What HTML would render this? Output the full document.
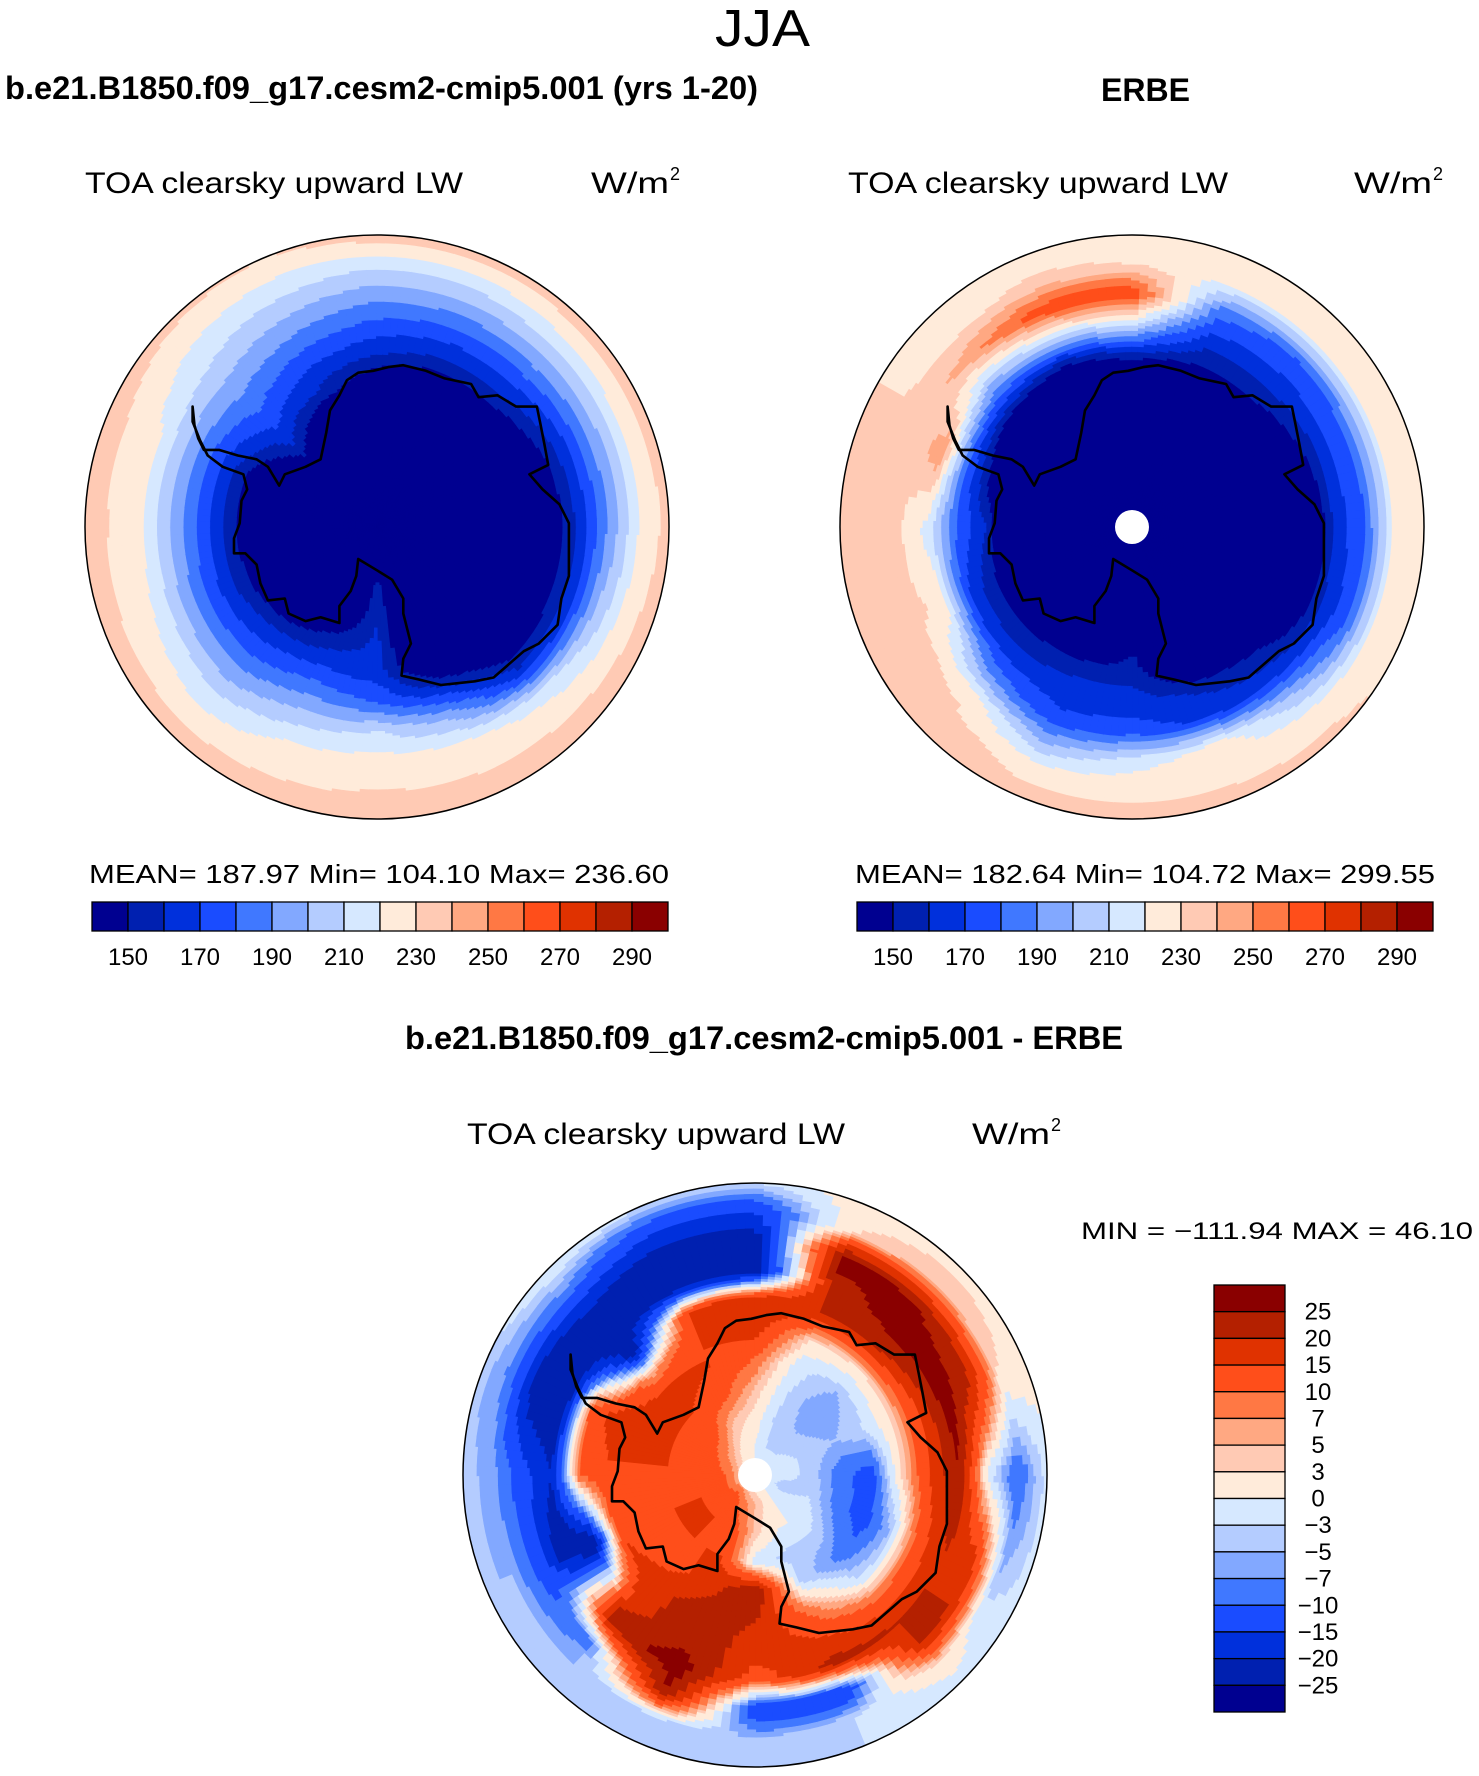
<!DOCTYPE html>
<html><head><meta charset="utf-8">
<style>
html,body{margin:0;padding:0;background:#fff;}
svg{display:block;}
text{font-family:"Liberation Sans",sans-serif;fill:#000;}
</style></head>
<body>
<svg id="fig" width="1479" height="1776" viewBox="0 0 1479 1776" xmlns="http://www.w3.org/2000/svg">
  <text x="715" y="46" font-size="52" textLength="95" lengthAdjust="spacingAndGlyphs">JJA</text>
  <text x="5" y="99" font-size="32" font-weight="bold" textLength="753" lengthAdjust="spacingAndGlyphs">b.e21.B1850.f09_g17.cesm2-cmip5.001 (yrs 1-20)</text>
  <text x="1101" y="101" font-size="32" font-weight="bold" textLength="89" lengthAdjust="spacingAndGlyphs">ERBE</text>

  <text x="85" y="193" font-size="30" textLength="378" lengthAdjust="spacingAndGlyphs">TOA clearsky upward LW</text>
  <text x="591" y="193" font-size="30" textLength="78" lengthAdjust="spacingAndGlyphs">W/m</text>
  <text x="670" y="180" font-size="18">2</text>
  <text x="848" y="193" font-size="30" textLength="380" lengthAdjust="spacingAndGlyphs">TOA clearsky upward LW</text>
  <text x="1354" y="193" font-size="30" textLength="78" lengthAdjust="spacingAndGlyphs">W/m</text>
  <text x="1433" y="180" font-size="18">2</text>

  <g id="mapL"></g>
  <g id="mapR"></g>

  <text x="89" y="883" font-size="26" textLength="580" lengthAdjust="spacingAndGlyphs">MEAN= 187.97   Min= 104.10   Max= 236.60</text>
  <text x="855" y="883" font-size="26" textLength="580" lengthAdjust="spacingAndGlyphs">MEAN= 182.64   Min= 104.72   Max= 299.55</text>
  <g id="cbL"></g>
  <g id="cbR"></g>

  <text x="405" y="1049" font-size="32" font-weight="bold" textLength="718" lengthAdjust="spacingAndGlyphs">b.e21.B1850.f09_g17.cesm2-cmip5.001 - ERBE</text>
  <text x="467" y="1144" font-size="30" textLength="378" lengthAdjust="spacingAndGlyphs">TOA clearsky upward LW</text>
  <text x="972" y="1144" font-size="30" textLength="78" lengthAdjust="spacingAndGlyphs">W/m</text>
  <text x="1051" y="1131" font-size="18">2</text>
  <text x="1081" y="1239" font-size="24" textLength="392" lengthAdjust="spacingAndGlyphs">MIN = −111.94 MAX =  46.10</text>

  <g id="mapD"></g>
  <g id="cbD"></g>
</svg>
<script>
// ---- data ----
const palette = ["#000090","#0020B0","#0030DC","#1A4CFF","#4078FF","#82A8FF","#B4CCFF","#D6E8FF","#FFEBDA","#FFCAB4","#FFA882","#FF7844","#FF4E1A","#E03200","#B42000","#8A0000"];
const absLevels = [150,160,170,180,190,200,210,220,230,240,250,260,270,280,290];
const absTickLabels = ["150","170","190","210","230","250","270","290"];
const diffLevels = [-25,-20,-15,-10,-7,-5,-3,0,3,5,7,10,15,20,25];
const diffTickLabels = ["25","20","15","10","7","5","3","0","−3","−5","−7","−10","−15","−20","−25"];
// polar grid: 16 angles (clockwise from east, 22.5 deg), radii 0..1 step 0.1
const modelField = [
 [120,120,120,120,120,120,140,165,193,221,234],
 [120,120,120,120,120,120,140,165,201,225,236],
 [120,120,120,120,120,120,140,163,215,228,236],
 [120,120,120,120,120,130,163,197,222,229,236],
 [120,120,155,160,162,165,179,210,224,230,236],
 [120,120,120,130,152,168,187,205,221,228,236],
 [120,120,120,125,140,162,177,194,211,225,236],
 [120,120,120,120,135,155,174,196,218,227,236],
 [120,120,120,120,130,155,176,199,221,228,237],
 [120,120,120,120,130,155,175,198,220,228,236],
 [120,120,120,140,160,172,184,197,210,221,233],
 [120,120,120,120,130,158,171,187,202,217,230],
 [120,120,120,120,120,140,162,178,195,213,236],
 [120,120,120,120,120,130,156,174,194,214,236],
 [120,120,120,120,120,130,156,175,197,218,236],
 [120,120,120,120,120,125,145,168,194,220,235]
];
const obsField = [
 [115,115,115,115,115,115,125,165,180,224,228],
 [115,115,115,115,115,115,130,160,178,222,228],
 [115,115,115,115,115,115,150,165,200,226,232],
 [115,115,115,115,115,130,158,168,224,228,232],
 [115,115,115,140,148,155,165,175,215,228,232],
 [115,115,115,115,115,155,165,172,200,228,232],
 [115,115,115,115,115,150,165,190,228,232,233],
 [115,115,115,115,115,150,170,228,232,232,233],
 [115,115,115,115,115,160,180,215,232,233,233],
 [115,115,115,115,115,140,180,250,230,232,233],
 [115,115,115,115,115,115,165,205,245,226,225],
 [115,115,115,115,115,120,150,210,268,232,225],
 [115,115,115,115,115,115,162,215,272,230,225],
 [115,115,115,115,115,115,150,166,185,222,225],
 [115,115,115,115,115,115,150,166,178,222,225],
 [115,115,115,115,115,115,140,165,182,222,226]
];
const diffField = [
 [0,-2,-4,-9,-12,3,15,25,-2,-10,-2],
 [0,-4,-3,-8,-12,-5,12,20,18,-5,-2],
 [0,-2,0,-4,-8,-3,10,20,22,3,-2],
 [0,2,0,-4,-3,8,15,22,-15,-3,-3],
 [0,5,4,-2,25,20,18,12,-15,-5,-4],
 [0,8,12,15,18,22,23,28,25,-4,-5],
 [0,12,15,15,12,18,18,22,-8,-5,-4],
 [0,10,15,15,12,14,-25,-25,-12,-5,-5],
 [0,10,14,15,14,14,10,-20,-12,-6,-4],
 [0,8,14,15,18,18,12,-25,-25,-8,-4],
 [0,5,12,15,18,5,-25,-25,-20,-8,0],
 [0,2,5,12,15,15,15,-25,-25,-15,-3],
 [0,0,2,5,10,18,20,-25,-25,-15,-3],
 [0,-3,-4,-3,-2,3,20,22,28,3,2],
 [0,-3,-5,-7,-5,2,20,28,25,5,2],
 [0,-2,-4,-5,-3,3,15,28,20,3,2]
];
// ---- helpers ----
const NS = "http://www.w3.org/2000/svg";
function mk(tag, attrs){const e=document.createElementNS(NS,tag);for(const k in attrs)e.setAttribute(k,attrs[k]);return e;}
function levelIndex(v, levels){let i=0;while(i<levels.length && v>=levels[i])i++;return i;}
function sample(field, th, r){
  const na=field.length, nr=field[0].length-1;
  let a=th/(2*Math.PI)*na; a=((a%na)+na)%na;
  const a0=Math.floor(a), a1=(a0+1)%na, fa=a-a0;
  let ri=Math.min(r*nr, nr-1e-6); const r0=Math.floor(ri), fr=ri-r0;
  const v00=field[a0][r0], v01=field[a0][r0+1], v10=field[a1][r0], v11=field[a1][r0+1];
  return (v00*(1-fa)+v10*fa)*(1-fr)+(v01*(1-fa)+v11*fa)*fr;
}
const coast = [[300,470],[305,520],[315,555],[330,585],[370,585],[420,600],[470,610],[500,630],[530,680],[545,650],[600,630],[640,610],[655,540],[665,480],[690,440],[710,400],[740,380],[780,375],[820,365],[860,360],[920,375],[970,395],[1040,410],[1060,445],[1110,440],[1160,470],[1215,470],[1225,520],[1235,570],[1245,625],[1195,650],[1230,690],[1275,730],[1300,780],[1300,870],[1300,920],[1280,980],[1270,1050],[1220,1100],[1180,1120],[1100,1190],[1050,1200],[960,1210],[900,1195],[855,1185],[860,1140],[880,1100],[870,1060],[860,1020],[860,980],[830,930],[790,905],[740,875],[735,920],[720,960],[690,1000],[690,1045],[640,1030],[600,1040],[555,1020],[545,980],[500,985],[480,940],[470,890],[440,860],[410,860],[410,820],[425,780],[430,720],[445,690],[435,650],[380,630],[340,600],[320,560],[300,510]];
function drawMap(gid, cx, cy, R, field, levels, hole){
  const g=document.getElementById(gid);
  const cid=gid+"-clip";
  const defs=mk("defs",{}); const cp=mk("clipPath",{id:cid}); cp.appendChild(mk("circle",{cx:cx,cy:cy,r:R})); defs.appendChild(cp); g.appendChild(defs);
  const cg=mk("g",{"clip-path":"url(#"+cid+")"}); g.appendChild(cg);
  const NA=180, NR=110, dth=2*Math.PI/NA;
  for(let i=0;i<NA;i++){
    const t0=i*dth-0.003, t1=(i+1)*dth+0.003, tm=(i+0.5)*dth;
    let runStart=0, runCol=levelIndex(sample(field,tm,0.5/NR),levels);
    for(let j=1;j<=NR;j++){
      const col = j<NR ? levelIndex(sample(field,tm,(j+0.5)/NR),levels) : -1;
      if(col!==runCol){
        const ra=runStart/NR*R, rb=(j===NR?1.02:j/NR)*R;
        const p=(rr,t)=>(cx+Math.cos(t)*rr).toFixed(1)+","+(cy+Math.sin(t)*rr).toFixed(1);
        const d="M"+p(ra,t0)+"L"+p(rb,t0)+"L"+p(rb,t1)+"L"+p(ra,t1)+"Z";
        const path=mk("path",{d:d,fill:palette[runCol],stroke:palette[runCol],"stroke-width":"0.6"});
        
        
        cg.appendChild(path);
        runStart=j; runCol=col;
      }
    }
  }
  const s=R/(776/2.657)/2.657;
  const pts=coast.map(q=>((q[0]-790)*s+cx).toFixed(1)+","+((q[1]-790)*s+cy).toFixed(1)).join(" ");
  const cl=mk("polygon",{points:pts,fill:"none",stroke:"#000","stroke-width":"2.6","stroke-linejoin":"round"});
  
  
  g.appendChild(cl);
  if(hole){
    const h=mk("circle",{cx:cx,cy:cy,r:17,fill:"#fff"});
    
    
    g.appendChild(h);
  }
  const bd=mk("circle",{cx:cx,cy:cy,r:R,fill:"none",stroke:"#000","stroke-width":"1.5"});
  
  
  g.appendChild(bd);
}
function drawHBar(gid, x, y, w, h, labels){
  const g=document.getElementById(gid); const bw=w/palette.length;
  palette.forEach((c,i)=>{
    const r=mk("rect",{x:x+i*bw,y:y,width:bw,height:h,fill:c,stroke:"#000","stroke-width":"1.3"});
    
    
    g.appendChild(r);
  });
  labels.forEach((l,k)=>{
    const t=mk("text",{x:x+(2*k+1)*bw,y:y+63,"font-size":"24","text-anchor":"middle"});
    t.textContent=l;
    
    
    g.appendChild(t);
  });
}
function drawVBar(gid, x, y, w, h, labels){
  const g=document.getElementById(gid); const bh=h/palette.length;
  palette.slice().reverse().forEach((c,i)=>{
    const r=mk("rect",{x:x,y:y+i*bh,width:w,height:bh,fill:c,stroke:"#000","stroke-width":"1.3"});
    
    
    g.appendChild(r);
  });
  labels.forEach((l,k)=>{
    const t=mk("text",{x:x+104,y:y+(k+1)*bh+8,"font-size":"24","text-anchor":"middle"});
    t.textContent=l;
    
    
    g.appendChild(t);
  });
}
drawMap("mapL",377,527,292,modelField,absLevels,false);
drawMap("mapR",1132,527,292,obsField,absLevels,true);
drawMap("mapD",755,1475,292,diffField,diffLevels,true);
drawHBar("cbL",92,902,576,29,absTickLabels);
drawHBar("cbR",857,902,576,29,absTickLabels);
drawVBar("cbD",1214,1285,71,427,diffTickLabels);
</script>
</body></html>
